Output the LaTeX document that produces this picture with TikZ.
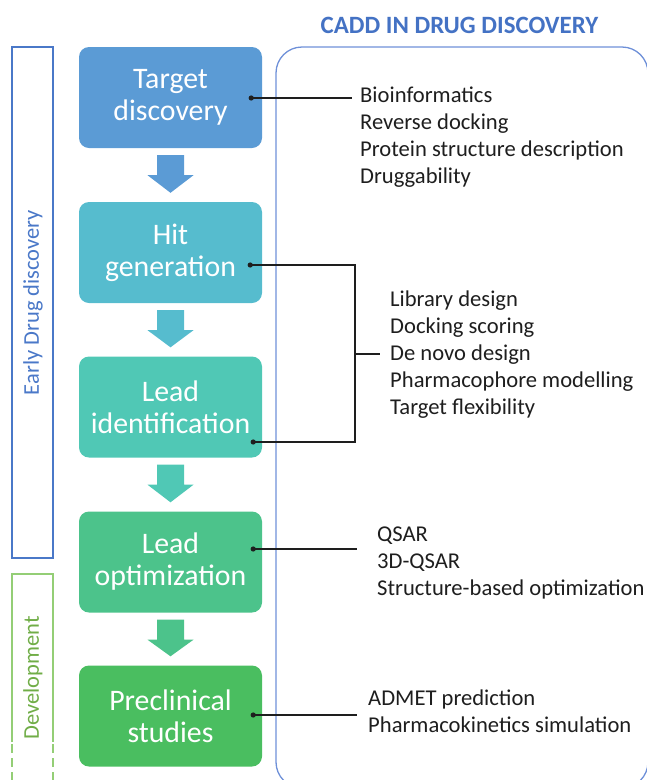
\documentclass[tikz,border=0pt]{standalone}
\usepackage{fontspec}
\setmainfont{Carlito}
\usetikzlibrary{calc}

\definecolor{tdblue}{HTML}{5B9BD5}
\definecolor{hgteal}{HTML}{56BCCE}
\definecolor{liteal}{HTML}{50C8B5}
\definecolor{logreen}{HTML}{4CC38B}
\definecolor{pcgreen}{HTML}{4ABE60}
\definecolor{frameblue}{HTML}{4A78C8}
\definecolor{panelblue}{HTML}{6E90D8}
\definecolor{titleblue}{HTML}{4472C4}
\definecolor{devline}{HTML}{94CE76}
\definecolor{devtext}{HTML}{70AD47}
\definecolor{ink}{HTML}{1E1E1E}

\tikzset{
  stage/.style={rounded corners=10pt, minimum width=183pt, minimum height=101pt,
    inner sep=0pt, text=white, align=center, font=\fontsize{29.8}{32}\selectfont},
  item/.style={anchor=base west, inner sep=0pt, text=ink, font=\fontsize{22.6}{26}\selectfont},
  link/.style={draw=ink, line width=1.2pt},
  linkdot/.style={fill=ink},
  sidelabel/.style={rotate=90, inner sep=0pt, font=\fontsize{22.5}{26}\selectfont},
}

\begin{document}
\begin{tikzpicture}[x=1pt,y=-1pt]
\useasboundingbox (0,0) rectangle (646,780);

% heading
\node[text=titleblue, anchor=base, inner sep=0pt,
      font=\fontsize{24.9}{28}\selectfont\bfseries] (title) at (459.5,33) {CADD IN DRUG DISCOVERY};

% CADD panel
\draw[panelblue, line width=1.3pt, rounded corners=26pt] (276,47) rectangle (648,788);

% phase frames on the left
\draw[frameblue, line width=1.3pt] (12,47) rectangle (53,558);
\node[sidelabel, text=frameblue] (early) at (33,302.5) {Early Drug discovery};
\draw[devline, line width=1.3pt] (12,742) -- (12,574) -- (53,574) -- (53,742);
\draw[devline, line width=1.3pt, dash pattern=on 9pt off 5pt] (12,744) -- (12,782) (53,744) -- (53,782);
\node[sidelabel, text=devtext] (dev) at (33,678) {Development};

% pipeline stages
\node[stage, fill=tdblue]  (td) at (170.5,97.5) {Target\\discovery};
\node[stage, fill=hgteal]  (hg) at (170.5,252.5) {Hit\\generation};
\node[stage, fill=liteal]  (li) at (170.5,407) {Lead\\identification};
\node[stage, fill=logreen] (lo) at (170.5,562) {Lead\\optimization};
\node[stage, fill=pcgreen] (pc) at (170.5,716) {Preclinical\\studies};

% block arrows between stages
\foreach \a/\b/\c in {td/hg/tdblue, hg/li/hgteal, li/lo/liteal, lo/pc/logreen}{
  \fill[\c] ($(\a.south)+(-13.5,7)$) -- ($(\a.south)+(13.5,7)$) -- ($(\a.south)+(13.5,27)$)
    -- ($(\a.south)+(23,27)$) -- ($(\b.north)+(0,-9)$) -- ($(\a.south)+(-23,27)$)
    -- ($(\a.south)+(-13.5,27)$) -- cycle;
}

% connector anchors
\coordinate (tdDot) at ($(td.east)+(-11,0.5)$);
\coordinate (hgDot) at ($(hg.east)+(-12,12.5)$);
\coordinate (liDot) at ($(li.east)+(-9,35)$);
\coordinate (loDot) at ($(lo.east)+(-9,-13)$);
\coordinate (pcDot) at ($(pc.east)+(-9,-1)$);
\coordinate (tdEnd) at (352,98);
\coordinate (hgCorner) at (355,265);
\coordinate (liCorner) at (355,442);
\coordinate (brMid) at (355,354);
\coordinate (brEnd) at (380,354);
\coordinate (loEnd) at (357,549);
\coordinate (pcEnd) at (357,715);

\draw[link] (tdDot) -- (tdEnd);
\draw[link] (hgDot) -- (hgCorner) -- (liCorner) -- (liDot);
\draw[link] (brMid) -- (brEnd);
\draw[link] (loDot) -- (loEnd);
\draw[link] (pcDot) -- (pcEnd);
\foreach \p in {tdDot, hgDot, liDot, loDot, pcDot}
  \fill[linkdot] (\p) circle (2.6pt);

% methods for each stage
\node[item] (t1) at (360,102) {Bioinformatics};
\node[item] (t2) at (360,129) {Reverse docking};
\node[item] (t3) at (360,156) {Protein structure description};
\node[item] (t4) at (360,183) {Druggability};

\node[item] (h1) at (390,306) {Library design};
\node[item] (h2) at (390,333) {Docking scoring};
\node[item] (h3) at (390,360) {De novo design};
\node[item] (h4) at (390,387) {Pharmacophore modelling};
\node[item] (h5) at (390,414) {Target flexibility};

\node[item] (o1) at (377,541) {QSAR};
\node[item] (o2) at (377,568) {3D-QSAR};
\node[item] (o3) at (377,595) {Structure-based optimization};

\node[item] (p1) at (368,705) {ADMET prediction};
\node[item] (p2) at (368,732) {Pharmacokinetics simulation};
\end{tikzpicture}
\end{document}
